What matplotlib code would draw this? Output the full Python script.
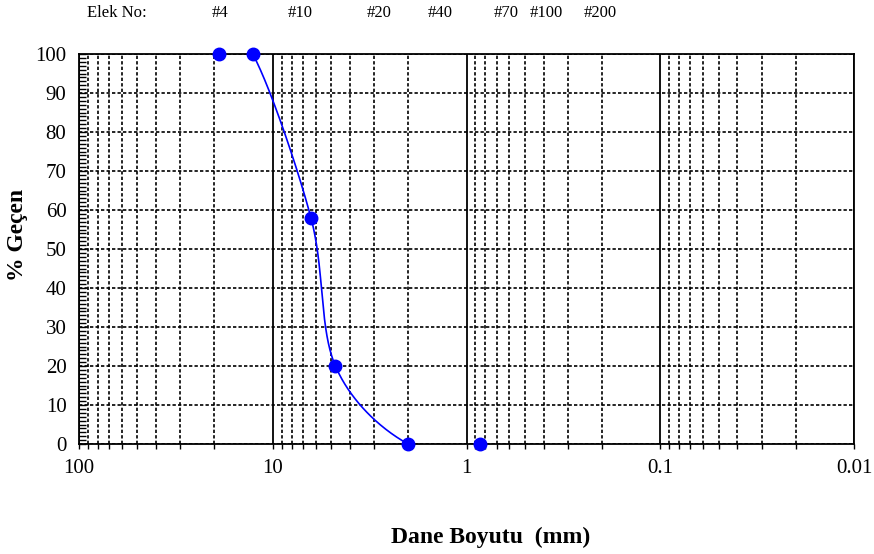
import numpy as np
import matplotlib
matplotlib.use("Agg")
import matplotlib.pyplot as plt
from matplotlib.ticker import FixedLocator, NullFormatter, MultipleLocator

# ---- data ----
sizes_mm = [19.0, 12.7, 6.35, 4.75, 2.0, 0.85]
percent_passing = [100, 100, 58, 20, 0, 0]
x_tick_values = [100, 10, 1, 0.1, 0.01]
x_tick_labels = ["100", "10", "1", "0.1", "0.01"]
y_tick_values = [0, 10, 20, 30, 40, 50, 60, 70, 80, 90, 100]
sieve_labels = ["#4", "#10", "#20", "#40", "#70", "#100", "#200"]

# layout (figure pixel x-centres of the sieve labels)
sieve_label_px = [220, 300, 379, 440, 506, 546, 600]

plt.rcParams['font.family'] = ['Liberation Serif', 'DejaVu Serif']

W, H = 874, 554
fig = plt.figure(figsize=(W / 100, H / 100), dpi=100)
ax = fig.add_axes([79 / W, 1 - 444 / H, (854 - 79) / W, (444 - 54) / H])


def excel_smooth(xs, ys, n=60):
    P = np.column_stack([xs, ys]).astype(float)
    segs = []
    for i in range(len(P) - 1):
        p0 = P[i - 1] if i > 0 else P[i]
        p1, p2 = P[i], P[i + 1]
        p3 = P[i + 2] if i + 2 < len(P) else P[i + 1]
        c1 = p1 + (p2 - p0) / 6
        c2 = p2 - (p3 - p1) / 6
        t = np.linspace(0, 1, n)[:, None]
        segs.append((1 - t) ** 3 * p1 + 3 * (1 - t) ** 2 * t * c1
                    + 3 * (1 - t) * t ** 2 * c2 + t ** 3 * p2)
    return np.vstack(segs)


curve = excel_smooth(np.log10(sizes_mm), percent_passing)
ax.plot(10 ** curve[:, 0], curve[:, 1], color='#0000FF', lw=1.2, zorder=4)
ax.plot(sizes_mm, percent_passing, 'o', color='#0000FF', ms=9,
        clip_on=False, zorder=5)

ax.set_xscale('log')
ax.set_xlim(100, 0.01)
ax.set_ylim(0, 100)

ax.xaxis.set_major_locator(FixedLocator(x_tick_values))
ax.set_xticklabels(x_tick_labels)
minor = [m * 10.0 ** e for e in range(-2, 2) for m in range(2, 10)]
ax.xaxis.set_minor_locator(FixedLocator(minor))
ax.xaxis.set_minor_formatter(NullFormatter())
ax.yaxis.set_major_locator(FixedLocator(y_tick_values))
ax.yaxis.set_minor_locator(MultipleLocator(1))

ax.grid(True, which='major', axis='x', color='black', lw=1.3, ls='-')
ax.grid(True, which='minor', axis='x', color='black', lw=1.2, ls=(0, (2, 1.3)))
ax.grid(True, which='major', axis='y', color='black', lw=1.2, ls=(0, (2, 1.3)))
ax.set_axisbelow(True)

for s in ax.spines.values():
    s.set_linewidth(1.3)
    s.set_color('black')

ax.tick_params(axis='x', which='both', direction='out', length=3.5, width=1.0,
               labelsize=15, pad=7, top=False)
ax.tick_params(axis='y', which='major', direction='in', length=5, width=1.0,
               labelsize=15, pad=9)
ax.tick_params(axis='y', which='minor', direction='in', length=5, width=1.0)

fig.text(491 / W, 1 - 537 / H, "Dane Boyutu  (mm)", ha='center', va='center',
         fontsize=17, fontweight='bold')
fig.text(18 / W, 1 - 235 / H, "% Geçen", ha='center', va='center',
         rotation=90, fontsize=17, fontweight='bold')

fig.text(87 / W, 1 - 13 / H, "Elek No:", ha='left', va='center', fontsize=12)
for lab, px in zip(sieve_labels, sieve_label_px):
    fig.text(px / W, 1 - 13 / H, lab, ha='center', va='center', fontsize=12)

fig.savefig("out.png", dpi=100)
